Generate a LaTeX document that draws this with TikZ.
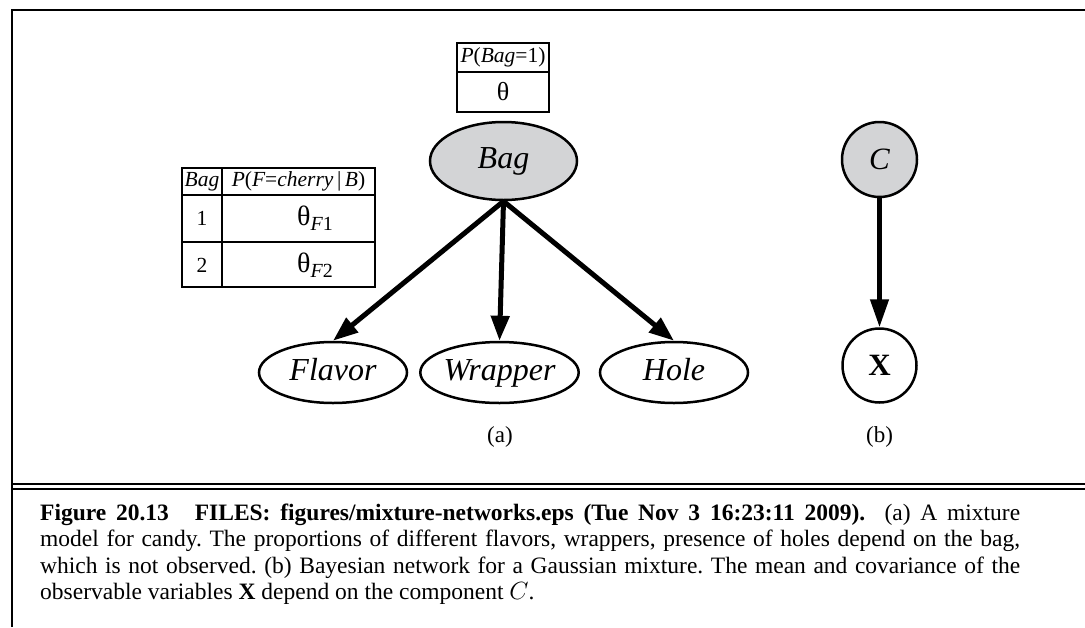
\documentclass[tikz,border=0pt]{standalone}
\usepackage{fontspec}
\setmainfont{Liberation Serif}
\usetikzlibrary{shapes.geometric,arrows.meta}
\definecolor{nodegray}{RGB}{211,212,214}
\tikzset{
  var/.style={ellipse, draw, line width=2.5pt, inner sep=0pt, minimum width=148pt, minimum height=61pt,
    text height=21pt, text depth=6pt,
    font=\fontsize{32}{36}\selectfont\itshape},
  hidden/.style={fill=nodegray},
  circvar/.style={circle, draw, line width=2.5pt, inner sep=0pt, minimum size=75pt,
    font=\fontsize{31}{36}\selectfont},
  edge/.style={line width=5pt, -{Triangle[length=25pt,width=18pt]}},
  tbl/.style={line width=1.3pt},
  tbltext/.style={inner sep=0pt, font=\fontsize{21.5}{24}\selectfont},
  thetatext/.style={inner sep=0pt, font=\fontsize{28}{30}\selectfont},
  frame/.style={line width=2.6pt},
  sublabel/.style={inner sep=0pt, font=\fontsize{23}{26}\selectfont}
}
\newcommand{\thsub}[1]{\raisebox{-0.4ex}{\fontsize{20}{22}\selectfont\itshape F\upshape #1}}
\begin{document}
\begin{tikzpicture}[x=1pt,y=-1pt]
\useasboundingbox (0,0) rectangle (1085,627);
% frame
\draw[frame] (12,627) -- (12,10) -- (1086,10);
\draw[line width=2pt] (12,484) -- (1086,484);
\draw[line width=2pt] (12,489) -- (1086,489);

% (a) network
\node[var, hidden, minimum width=147pt, minimum height=78pt] (bag) at (503.5,161) {Bag};
\node[var] (flavor) at (333,372.5) {Flavor};
\node[var, minimum width=155pt] (wrapper) at (499.5,372.5) {Wrapper};
\node[var] (hole) at (674,372.5) {Hole};
\draw[edge] (bag.south) -- (flavor.north);
\draw[edge] (bag.south) -- (wrapper.north);
\draw[edge] (bag.south) -- (hole.north);

% top table
\draw[tbl] (457,43) rectangle (549,112);
\draw[tbl] (457,72) -- (549,72);
\node[tbltext] (pbag) at (503,57.5) {\itshape P\upshape(\itshape Bag\upshape=1)};
\node[thetatext, font=\fontsize{26}{28}\selectfont] (theta) at (503,92) {θ};

% left table
\draw[tbl] (182,168) rectangle (375,287);
\draw[tbl] (222,168) -- (222,287);
\draw[tbl] (182,195) -- (375,195);
\draw[tbl] (182,242) -- (375,242);
\node[tbltext] (hbag) at (202,181.5) {\itshape Bag};
\node[tbltext] (hpf) at (298.5,181.5) {\itshape P\upshape(\itshape F\upshape=\itshape cherry\upshape\,|\,\itshape B\upshape)};
\node[tbltext] (r1) at (202,218.5) {1};
\node[tbltext] (r2) at (202,265) {2};
\node[thetatext] (t1) at (315,218.5) {θ\thsub{1}};
\node[thetatext] (t2) at (315,265) {θ\thsub{2}};

\node[sublabel] (la) at (500,437) {(a)};

% (b) network
\node[circvar, hidden] (c) at (879.5,159.5) {\itshape C};
\node[circvar, minimum size=74pt] (x) at (879.5,365.5) {\bfseries X};
\draw[edge, line width=4.5pt, -{Triangle[length=28pt,width=18pt]}] (c) -- (x);
\node[sublabel] (lb) at (879.5,437) {(b)};

% caption
\node[anchor=base west, text width=980pt, align=justify, inner sep=0pt,
  font=\fontsize{23.5}{26.6}\selectfont\frenchspacing] (cap) at (40,520)
{\textbf{Figure 20.13}\hspace{1.1em}\textbf{FILES: figures/mixture-networks.eps (Tue Nov 3 16:23:11 2009).}\hspace{0.4em} (a) A mixture\linebreak
model for candy. The proportions of different flavors, wrappers, presence of holes depend on the bag,\linebreak
which is not observed. (b) Bayesian network for a Gaussian mixture. The mean and covariance of the\linebreak
observable variables \textbf{X} depend on the component $C$.};
\end{tikzpicture}
\end{document}
